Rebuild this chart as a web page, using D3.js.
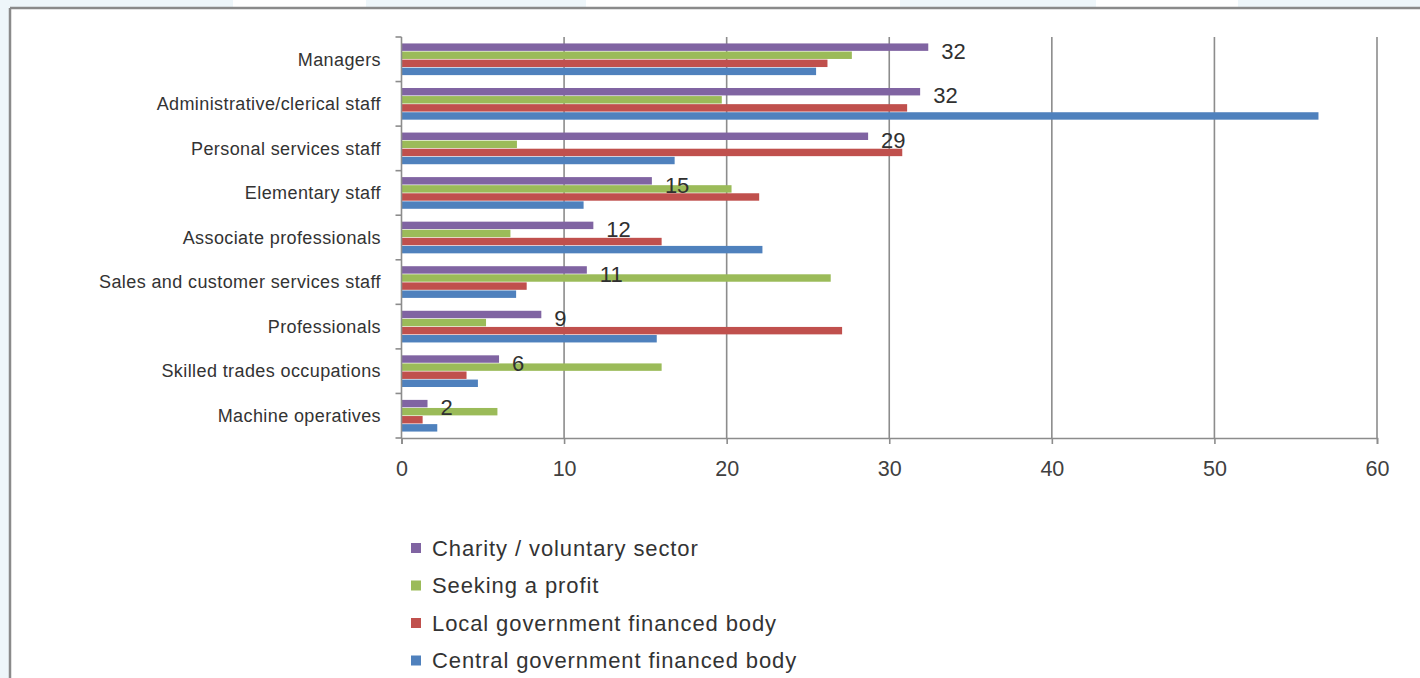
<!DOCTYPE html>
<html><head><meta charset="utf-8">
<script src="https://cdn.jsdelivr.net/npm/d3@7"></script>
<style>html,body{margin:0;padding:0;background:#eef6fa;}svg{display:block;}</style>
</head><body>
<svg id="c" width="1420" height="678"></svg>
<script>
const categories = ["Managers","Administrative/clerical staff","Personal services staff","Elementary staff","Associate professionals","Sales and customer services staff","Professionals","Skilled trades occupations","Machine operatives"];
const seriesNames = ["Charity / voluntary sector","Seeking a profit","Local government financed body","Central government financed body"];
const charity = [32.4,31.9,28.7,15.4,11.8,11.4,8.6,6.0,1.6];
const profit = [27.7,19.7,7.1,20.3,6.7,26.4,5.2,16.0,5.9];
const localGov = [26.2,31.1,30.8,22.0,16.0,7.7,27.1,4.0,1.3];
const centralGov = [25.5,56.4,16.8,11.2,22.2,7.05,15.7,4.7,2.2];
const xTicks = [0,10,20,30,40,50,60];
const colors = ["#8064a2","#9bbb59","#c0504d","#4f81bd"];
const seriesValues = [charity, profit, localGov, centralGov];

const svg = d3.select("#c");
// background strips and panel
const strips = [[0,233,"#eef6fa"],[233,366,"#ffffff"],[366,586,"#eef6fa"],[586,900,"#ffffff"],[900,1096,"#eef6fa"],[1096,1238,"#ffffff"],[1238,1420,"#eef6fa"]];
svg.selectAll("rect.strip").data(strips).join("rect").attr("class","strip")
  .attr("x",d=>d[0]).attr("y",0).attr("width",d=>d[1]-d[0]).attr("height",8).attr("fill",d=>d[2]);
svg.append("rect").attr("x",10).attr("y",8).attr("width",1410).attr("height",670).attr("fill","#ffffff");
svg.append("line").attr("x1",10).attr("x2",1420).attr("y1",8).attr("y2",8).attr("stroke","#8a8a8a").attr("stroke-width",2.5);
svg.append("line").attr("x1",10).attr("x2",10).attr("y1",8).attr("y2",678).attr("stroke","#8a8a8a").attr("stroke-width",2.5);

const x = d3.scaleLinear().domain([0,60]).range([401.5,1377]);
const y0 = d3.scaleBand().domain(categories).range([37,438]).paddingInner(0.26).paddingOuter(0.13);
const y1 = d3.scaleBand().domain(d3.range(4)).range([0,y0.bandwidth()]).padding(0.08);
const full = d3.scaleBand().domain(categories).range([37,438]);

const axisColor = "#8c8c8c";
const font = "Liberation Sans, Arial, sans-serif";
// gridlines
svg.selectAll("line.grid").data(xTicks.slice(1)).join("line").attr("class","grid")
  .attr("x1",d=>x(d)).attr("x2",d=>x(d)).attr("y1",37).attr("y2",438)
  .attr("stroke",axisColor).attr("stroke-width",1.6);

// bars
const g = svg.append("g");
categories.forEach((c,i)=>{
  seriesValues.forEach((vals,s)=>{
    g.append("rect").attr("x",x(0)).attr("y",y0(c)+y1(s))
      .attr("width",x(vals[i])-x(0)).attr("height",y1.bandwidth()).attr("fill",colors[s]);
  });
});

// x axis
const xa = svg.append("g").attr("transform","translate(0,438)")
  .call(d3.axisBottom(x).tickValues(xTicks).tickSize(6).tickPadding(17).tickFormat(d3.format("d")));
xa.select(".domain").attr("stroke",axisColor).attr("stroke-width",1.6);
xa.selectAll(".tick line").attr("stroke",axisColor).attr("stroke-width",1.6);
xa.selectAll(".tick text").attr("font-family",font).attr("font-size",21.5).attr("fill","#404040");

// y axis
svg.append("line").attr("x1",x(0)).attr("x2",x(0)).attr("y1",37).attr("y2",438).attr("stroke",axisColor).attr("stroke-width",1.6);
const bounds = categories.map(c=>full(c)).concat([438]);
svg.selectAll("line.ytick").data(bounds).join("line").attr("class","ytick")
  .attr("x1",x(0)-6).attr("x2",x(0)).attr("y1",d=>d).attr("y2",d=>d).attr("stroke",axisColor).attr("stroke-width",1.6);
svg.selectAll("text.cat").data(categories).join("text").attr("class","cat")
  .attr("x",381).attr("y",d=>full(d)+full.bandwidth()/2).attr("dy","0.35em")
  .attr("text-anchor","end").attr("font-family",font).attr("font-size",18).attr("letter-spacing",0.4).attr("fill","#333")
  .text(d=>d);

// data labels for charity series
svg.selectAll("text.lbl").data(categories).join("text").attr("class","lbl")
  .attr("x",(d,i)=>x(charity[i])+13).attr("y",d=>y0(d)+y1(0)+y1.bandwidth()/2+4).attr("dy","0.35em")
  .attr("font-family",font).attr("font-size",22).attr("fill","#303030")
  .text((d,i)=>Math.round(charity[i]));

// legend
const lg = svg.append("g");
seriesNames.forEach((n,i)=>{
  const cy = 548 + i*37.5;
  lg.append("rect").attr("x",411).attr("y",cy-5).attr("width",10).attr("height",10).attr("fill",colors[i]);
  lg.append("text").attr("x",432).attr("y",cy).attr("dy","0.35em").attr("font-family",font)
    .attr("font-size",22).attr("letter-spacing",0.9).attr("fill","#333").text(n);
});
</script>
</body></html>
